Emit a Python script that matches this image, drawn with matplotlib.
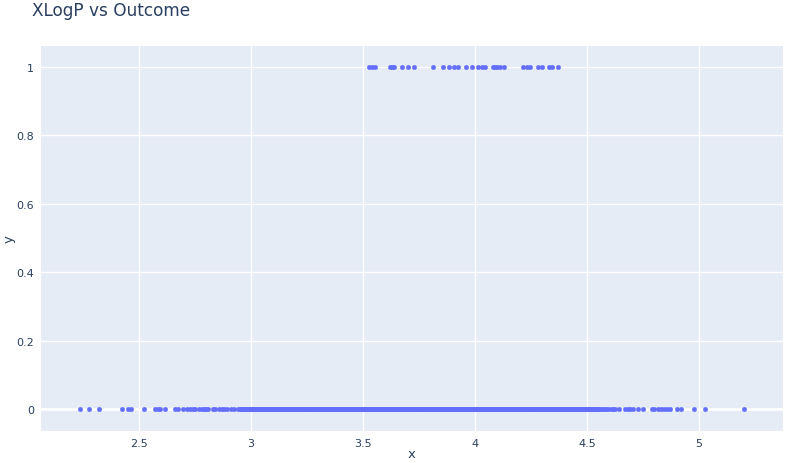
import matplotlib
matplotlib.use("Agg")
import matplotlib.pyplot as plt

# Outcome = 1 points
xlogp_pos = [3.528, 3.542, 3.555, 3.62, 3.629, 3.638, 3.673, 3.702, 3.729,
             3.814, 3.858, 3.884, 3.908, 3.925, 3.96, 3.988, 4.013, 4.03, 4.045,
             4.08, 4.09, 4.10, 4.11, 4.13, 4.214, 4.23, 4.245, 4.28, 4.30,
             4.33, 4.345, 4.37]

# Outcome = 0 points: sparse tails
xlogp_neg_low = [2.237, 2.275, 2.321, 2.423, 2.452, 2.464, 2.521, 2.571, 2.583,
                 2.594, 2.617, 2.66, 2.674, 2.696, 2.714, 2.728, 2.74, 2.75,
                 2.77, 2.78, 2.79, 2.80, 2.81, 2.83, 2.84, 2.855, 2.87, 2.88,
                 2.895, 2.91, 2.925, 2.94, 2.95]
# dense band
xlogp_neg_mid = [
    2.955, 2.96, 2.965, 2.97, 2.975, 2.98, 2.985, 2.99, 2.995, 3.00,
    3.005, 3.01, 3.015, 3.02, 3.025, 3.03, 3.035, 3.04, 3.045, 3.05,
    3.055, 3.06, 3.065, 3.07, 3.075, 3.08, 3.085, 3.09, 3.095, 3.10,
    3.105, 3.11, 3.115, 3.12, 3.125, 3.13, 3.135, 3.14, 3.145, 3.15,
    3.155, 3.16, 3.165, 3.17, 3.175, 3.18, 3.185, 3.19, 3.195, 3.20,
    3.205, 3.21, 3.215, 3.22, 3.225, 3.23, 3.235, 3.24, 3.245, 3.25,
    3.255, 3.26, 3.265, 3.27, 3.275, 3.28, 3.285, 3.29, 3.295, 3.30,
    3.305, 3.31, 3.315, 3.32, 3.325, 3.33, 3.335, 3.34, 3.345, 3.35,
    3.355, 3.36, 3.365, 3.37, 3.375, 3.38, 3.385, 3.39, 3.395, 3.40,
    3.405, 3.41, 3.415, 3.42, 3.425, 3.43, 3.435, 3.44, 3.445, 3.45,
    3.455, 3.46, 3.465, 3.47, 3.475, 3.48, 3.485, 3.49, 3.495, 3.50,
    3.505, 3.51, 3.515, 3.52, 3.525, 3.53, 3.535, 3.54, 3.545, 3.55,
    3.555, 3.56, 3.565, 3.57, 3.575, 3.58, 3.585, 3.59, 3.595, 3.60,
    3.605, 3.61, 3.615, 3.62, 3.625, 3.63, 3.635, 3.64, 3.645, 3.65,
    3.655, 3.66, 3.665, 3.67, 3.675, 3.68, 3.685, 3.69, 3.695, 3.70,
    3.705, 3.71, 3.715, 3.72, 3.725, 3.73, 3.735, 3.74, 3.745, 3.75,
    3.755, 3.76, 3.765, 3.77, 3.775, 3.78, 3.785, 3.79, 3.795, 3.80,
    3.805, 3.81, 3.815, 3.82, 3.825, 3.83, 3.835, 3.84, 3.845, 3.85,
    3.855, 3.86, 3.865, 3.87, 3.875, 3.88, 3.885, 3.89, 3.895, 3.90,
    3.905, 3.91, 3.915, 3.92, 3.925, 3.93, 3.935, 3.94, 3.945, 3.95,
    3.955, 3.96, 3.965, 3.97, 3.975, 3.98, 3.985, 3.99, 3.995, 4.00,
    4.005, 4.01, 4.015, 4.02, 4.025, 4.03, 4.035, 4.04, 4.045, 4.05,
    4.055, 4.06, 4.065, 4.07, 4.075, 4.08, 4.085, 4.09, 4.095, 4.10,
    4.105, 4.11, 4.115, 4.12, 4.125, 4.13, 4.135, 4.14, 4.145, 4.15,
    4.155, 4.16, 4.165, 4.17, 4.175, 4.18, 4.185, 4.19, 4.195, 4.20,
    4.205, 4.21, 4.215, 4.22, 4.225, 4.23, 4.235, 4.24, 4.245, 4.25,
    4.255, 4.26, 4.265, 4.27, 4.275, 4.28, 4.285, 4.29, 4.295, 4.30,
    4.305, 4.31, 4.315, 4.32, 4.325, 4.33, 4.335, 4.34, 4.345, 4.35,
    4.355, 4.36, 4.365, 4.37, 4.375, 4.38, 4.385, 4.39, 4.395, 4.40,
    4.405, 4.41, 4.415, 4.42, 4.425, 4.43, 4.435, 4.44, 4.445, 4.45,
    4.455, 4.46, 4.465, 4.47, 4.475, 4.48, 4.485, 4.49, 4.495, 4.50,
    4.505, 4.51, 4.515, 4.52, 4.525, 4.53, 4.535, 4.54, 4.545, 4.55,
    4.555, 4.558]
xlogp_neg_high = [4.566, 4.575, 4.585, 4.595, 4.605, 4.615, 4.625, 4.643,
                  4.67, 4.682, 4.694, 4.705, 4.728, 4.75, 4.789, 4.80, 4.815,
                  4.83, 4.845, 4.857, 4.87, 4.90, 4.918, 4.978, 5.028, 5.20]

x_ticks = [2.5, 3, 3.5, 4, 4.5, 5]
x_tick_labels = ["2.5", "3", "3.5", "4", "4.5", "5"]
y_ticks = [0, 0.2, 0.4, 0.6, 0.8, 1]
y_tick_labels = ["0", "0.2", "0.4", "0.6", "0.8", "1"]

xs0 = xlogp_neg_low + xlogp_neg_mid + xlogp_neg_high
ys0 = [0] * len(xs0)
ys1 = [1] * len(xlogp_pos)

text_color = "#2a3f5f"
fig = plt.figure(figsize=(8.06, 4.64), dpi=100)
ax = fig.add_axes([41 / 806, (464 - 432) / 464, (783 - 41) / 806, (432 - 47) / 464])
ax.set_facecolor("#E5ECF6")
for s in ax.spines.values():
    s.set_visible(False)

ax.scatter(xs0 + xlogp_pos, ys0 + ys1, s=11, color="#636EFA",
           edgecolors="#636EFA", linewidths=0.2, zorder=3)

ax.set_xlim(2.0625, 5.375)
ax.set_ylim(-0.064, 1.0614)
ax.set_xticks(x_ticks)
ax.set_xticklabels(x_tick_labels)
ax.set_yticks(y_ticks)
ax.set_yticklabels(y_tick_labels)
ax.grid(True, color="white", linewidth=1, zorder=0)
ax.set_axisbelow(True)
ax.axhline(0, color="white", linewidth=2, zorder=1)
ax.tick_params(length=0, labelsize=8, colors=text_color, pad=5)
ax.set_xlabel("x", fontsize=9.5, color=text_color)
ax.set_ylabel("y", fontsize=9.5, color=text_color)
ax.xaxis.set_label_coords(0.5, (432 - 455) / 385, transform=ax.transAxes)
ax.yaxis.set_label_coords((9 - 41) / 742, 0.5, transform=ax.transAxes)
ax.xaxis.label.set_va("center")
ax.yaxis.label.set_va("center")

fig.text(32 / 806, 1 - 11 / 464, "XLogP vs Outcome", fontsize=12.2, color=text_color,
         ha="left", va="center")

fig.savefig("out.png", dpi=100)
